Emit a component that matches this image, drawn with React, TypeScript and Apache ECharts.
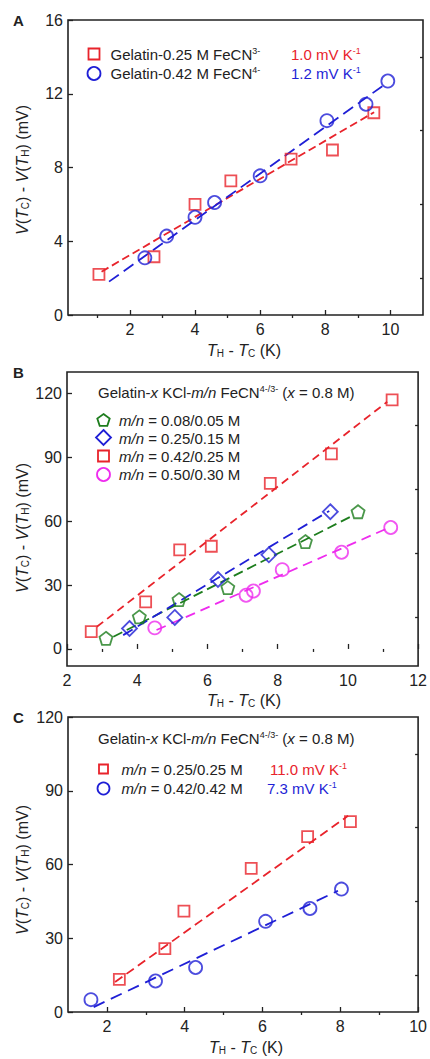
import React, { useEffect, useRef } from 'react';
import * as echarts from 'echarts';

const FONT = '"Liberation Sans", Arial, sans-serif';
const RED = '#e8232b';
const BLUE = '#1f1fd6';
const GREEN = '#1d7d1d';
const MAGENTA = '#ee2cee';
const INK = '#222222';

// ---------- Panel A data ----------
const aRedX = [1.05, 2.74, 4.0, 5.1, 6.95, 8.22, 9.49];
const aRedY = [2.2, 3.16, 6.0, 7.28, 8.45, 8.95, 10.97];
const aBlueX = [2.46, 3.13, 4.0, 4.6, 6.0, 8.05, 9.25, 9.92];
const aBlueY = [3.1, 4.28, 5.3, 6.1, 7.55, 10.54, 11.43, 12.69];
const aRedFit = [[1.13, 2.35], [9.5, 11.0]];
const aBlueFit = [[1.36, 1.81], [9.9, 12.6]];
const aXTicks = [2, 4, 6, 8, 10];
const aXMinor = [1, 3, 5, 7, 9];
const aYTicks = [0, 4, 8, 12, 16];
const aYMinor = [2, 6, 10, 14];

// ---------- Panel B data ----------
const bGreenX = [3.11, 4.06, 5.19, 6.58, 8.79, 10.29];
const bGreenY = [5.0, 15.1, 23.2, 28.8, 50.4, 64.4];
const bBlueX = [3.78, 5.07, 6.3, 7.75, 9.5];
const bBlueY = [9.6, 14.8, 32.6, 44.2, 64.4];
const bRedX = [2.69, 4.24, 5.21, 6.11, 7.79, 9.53, 11.26];
const bRedY = [8.1, 22.1, 46.5, 48.2, 77.7, 91.6, 116.9];
const bMagX = [4.5, 7.1, 7.31, 8.13, 9.82, 11.22];
const bMagY = [9.9, 25.2, 27.2, 37.2, 45.4, 57.0];
const bGreenFit = [[3.32, 5.7], [10.13, 62.5]];
const bBlueFit = [[3.6, 6.5], [9.47, 64.8]];
const bRedFit = [[2.85, 10.4], [11.12, 116]];
const bMagFit = [[4.55, 8.9], [11.08, 56.3]];
const bXTicks = [2, 4, 6, 8, 10, 12];
const bXMinor = [3, 5, 7, 9, 11];
const bYTicks = [0, 30, 60, 90, 120];
const bYMinor = [15, 45, 75, 105];

// ---------- Panel C data ----------
const cRedX = [2.32, 3.49, 3.98, 5.71, 7.16, 8.26];
const cRedY = [13.3, 25.8, 41.0, 58.4, 71.3, 77.4];
const cBlueX = [1.59, 3.25, 4.28, 6.08, 7.22, 8.03];
const cBlueY = [5.0, 12.6, 18.1, 36.9, 42.1, 50.0];
const cRedFit = [[2.21, 12.2], [8.2, 79.8]];
const cBlueFit = [[1.66, 2.0], [7.94, 49.3]];
const cXTicks = [2, 4, 6, 8, 10];
const cXMinor = [3, 5, 7, 9];
const cYTicks = [0, 30, 60, 90, 120];
const cYMinor = [15, 45, 75, 105];

const PENTAGON = 'path://M0,-10L9.511,-3.09L5.878,8.09L-5.878,8.09L-9.511,-3.09Z';

const zip = (xs: number[], ys: number[]) => xs.map((x, i) => [x, ys[i]]);

function richWith(color: string, size: number) {
  return {
    i: { fontStyle: 'italic', fontSize: size, fontFamily: FONT, fill: color },
    sup: { fontSize: Math.round(size * 0.62), fontFamily: FONT, fill: color, padding: [0, 0, 7, 0] },
    sub: { fontSize: Math.round(size * 0.62), fontFamily: FONT, fill: color, padding: [7, 0, 0, 0] },
  };
}

export default function App() {
  const ref = useRef<HTMLDivElement>(null);
  useEffect(() => {
    document.body.style.margin = '0';
    const chart = echarts.init(ref.current!, undefined, { renderer: 'svg' });

    const grids = [
      { left: 68, top: 20, width: 355, height: 295 },
      { left: 67, top: 372, width: 352, height: 294 },
      { left: 68, top: 717, width: 354, height: 295 },
    ].map((g) => ({ ...g, show: true, borderColor: INK, borderWidth: 1.6, backgroundColor: 'transparent' }));

    const axisCfg = [
      { x: [0.1, 11], y: [0, 16], xt: aXTicks, xm: aXMinor, yt: aYTicks, ym: aYMinor },
      { x: [2, 12], y: [-8, 130], xt: bXTicks, xm: bXMinor, yt: bYTicks, ym: bYMinor },
      { x: [1, 10], y: [0, 120], xt: cXTicks, xm: cXMinor, yt: cYTicks, ym: cYMinor },
    ];

    const xAxis: any[] = [];
    const yAxis: any[] = [];
    axisCfg.forEach((c, gi) => {
      const label = { color: INK, fontSize: 16, fontFamily: FONT };
      xAxis.push({
        gridIndex: gi, type: 'value', min: c.x[0], max: c.x[1],
        axisLine: { show: false }, splitLine: { show: false },
        axisTick: { inside: true, length: 5, customValues: c.xt, lineStyle: { color: INK, width: 1.3 } },
        axisLabel: { ...label, margin: 6, customValues: c.xt, showMaxLabel: true, showMinLabel: true },
      });
      xAxis.push({
        gridIndex: gi, type: 'value', min: c.x[0], max: c.x[1],
        axisLine: { show: false }, splitLine: { show: false },
        axisTick: { inside: true, length: 3, customValues: c.xm, lineStyle: { color: INK, width: 1.3 } },
        axisLabel: { show: false },
      });
      yAxis.push({
        gridIndex: gi, type: 'value', min: c.y[0], max: c.y[1],
        axisLine: { show: false }, splitLine: { show: false },
        axisTick: { inside: true, length: 5, customValues: c.yt, lineStyle: { color: INK, width: 1.3 } },
        axisLabel: { ...label, margin: 5, customValues: c.yt, showMaxLabel: true, showMinLabel: true },
      });
      yAxis.push({
        gridIndex: gi, type: 'value', min: c.y[0], max: c.y[1],
        axisLine: { show: false }, splitLine: { show: false },
        axisTick: { inside: true, length: 3, customValues: c.ym, lineStyle: { color: INK, width: 1.3 } },
        axisLabel: { show: false },
      });
    });

    const scatter = (name: string, gi: number, xs: number[], ys: number[], symbol: string, size: number, color: string) => ({
      name, type: 'scatter', xAxisIndex: gi * 2, yAxisIndex: gi * 2,
      data: zip(xs, ys), symbol, symbolSize: size,
      itemStyle: { color: 'rgba(255,255,255,0)', borderColor: color, borderWidth: 1.8 },
      z: 4,
    });
    const fit = (name: string, gi: number, pts: number[][], color: string, dash: number[]) => ({
      name, type: 'line', xAxisIndex: gi * 2, yAxisIndex: gi * 2,
      data: pts, symbol: 'none', showSymbol: false,
      lineStyle: { color, width: 1.8, type: dash },
      z: 3,
    });

    const series = [
      fit('A red fit', 0, aRedFit, RED, [8, 4]),
      fit('A blue fit', 0, aBlueFit, BLUE, [12, 6]),
      scatter('Gelatin-0.25 M FeCN3-', 0, aRedX, aRedY, 'rect', 11, RED),
      scatter('Gelatin-0.42 M FeCN4-', 0, aBlueX, aBlueY, 'circle', 13, BLUE),
      fit('B red fit', 1, bRedFit, RED, [8, 5]),
      fit('B green fit', 1, bGreenFit, GREEN, [10, 5]),
      fit('B blue fit', 1, bBlueFit, BLUE, [11, 6]),
      fit('B magenta fit', 1, bMagFit, MAGENTA, [10, 6]),
      scatter('m/n = 0.08/0.05 M', 1, bGreenX, bGreenY, PENTAGON, 13, GREEN),
      scatter('m/n = 0.25/0.15 M', 1, bBlueX, bBlueY, 'diamond', 15, BLUE),
      scatter('m/n = 0.42/0.25 M', 1, bRedX, bRedY, 'rect', 11, RED),
      scatter('m/n = 0.50/0.30 M', 1, bMagX, bMagY, 'circle', 13, MAGENTA),
      fit('C red fit', 2, cRedFit, RED, [9, 5]),
      fit('C blue fit', 2, cBlueFit, BLUE, [12, 7]),
      scatter('m/n = 0.25/0.25 M', 2, cRedX, cRedY, 'rect', 11, RED),
      scatter('m/n = 0.42/0.42 M', 2, cBlueX, cBlueY, 'circle', 13, BLUE),
    ];

    const txt = (x: number, y: number, text: string, opts: any = {}) => ({
      type: 'text', x, y, z: 10,
      style: {
        text, fill: opts.fill || INK, fontSize: opts.fontSize || 15, fontFamily: FONT,
        fontWeight: opts.fontWeight || 'normal',
        align: opts.align || 'left', verticalAlign: 'middle',
        rich: opts.rich || richWith(opts.fill || INK, opts.fontSize || 15),
      },
      rotation: opts.rotation || 0,
    });

    const sq = (cx: number, cy: number, s: number, color: string) => ({
      type: 'rect', z: 10, shape: { x: cx - s / 2, y: cy - s / 2, width: s, height: s },
      style: { fill: 'none', stroke: color, lineWidth: 1.8 },
    });
    const circ = (cx: number, cy: number, r: number, color: string) => ({
      type: 'circle', z: 10, shape: { cx, cy, r }, style: { fill: 'none', stroke: color, lineWidth: 1.8 },
    });
    const poly = (cx: number, cy: number, pts: number[][], color: string) => ({
      type: 'polygon', z: 10, shape: { points: pts.map(([x, y]) => [cx + x, cy + y]) },
      style: { fill: 'none', stroke: color, lineWidth: 1.8 },
    });
    const pentPts = [[0, -6.5], [6.2, -2], [3.8, 5.3], [-3.8, 5.3], [-6.2, -2]];
    const diaPts = [[0, -7.5], [7.5, 0], [0, 7.5], [-7.5, 0]];

    const yTitle = '{i|V}({i|T}{sub|C}) - {i|V}({i|T}{sub|H}) (mV)';
    const xTitle = '{i|T}{sub|H} - {i|T}{sub|C} (K)';
    const titleRich = richWith(INK, 16);

    const graphic = [
      // panel letters
      txt(13, 20, 'A', { fontWeight: 'bold', fontSize: 15 }),
      txt(13, 372, 'B', { fontWeight: 'bold', fontSize: 15 }),
      txt(13, 717, 'C', { fontWeight: 'bold', fontSize: 15 }),
      // axis titles
      txt(22, 170, yTitle, { align: 'center', fontSize: 16, rotation: Math.PI / 2, rich: titleRich }),
      txt(22, 528, yTitle, { align: 'center', fontSize: 16, rotation: Math.PI / 2, rich: titleRich }),
      txt(22, 870, yTitle, { align: 'center', fontSize: 16, rotation: Math.PI / 2, rich: titleRich }),
      txt(244, 350, xTitle, { align: 'center', fontSize: 16, rich: titleRich }),
      txt(244, 700, xTitle, { align: 'center', fontSize: 16, rich: titleRich }),
      txt(246, 1047, xTitle, { align: 'center', fontSize: 16, rich: titleRich }),
      // legend A
      sq(94, 54, 11, RED),
      circ(94, 73.5, 6.5, BLUE),
      txt(110.5, 54, 'Gelatin-0.25 M FeCN{sup|3-}'),
      txt(110.5, 73.5, 'Gelatin-0.42 M FeCN{sup|4-}'),
      txt(291, 54, '1.0 mV K{sup|-1}', { fill: RED }),
      txt(291, 73.5, '1.2 mV K{sup|-1}', { fill: BLUE }),
      // legend B
      txt(98, 392, 'Gelatin-{i|x} KCl-{i|m/n} FeCN{sup|4-/3-} ({i|x} = 0.8 M)'),
      poly(103.5, 420.5, pentPts, GREEN),
      poly(103.5, 437.5, diaPts, BLUE),
      sq(103.5, 456, 11, RED),
      circ(103.5, 474.5, 6.5, MAGENTA),
      txt(119, 420, '{i|m/n} = 0.08/0.05 M'),
      txt(119, 438, '{i|m/n} = 0.25/0.15 M'),
      txt(119, 456, '{i|m/n} = 0.42/0.25 M'),
      txt(119, 474.5, '{i|m/n} = 0.50/0.30 M'),
      // legend C
      txt(98, 738, 'Gelatin-{i|x} KCl-{i|m/n} FeCN{sup|4-/3-} ({i|x} = 0.8 M)'),
      sq(103.5, 769, 9, RED),
      circ(103.5, 788.5, 6, BLUE),
      txt(121.5, 769, '{i|m/n} = 0.25/0.25 M'),
      txt(121.5, 788.5, '{i|m/n} = 0.42/0.42 M'),
      txt(270, 769, '11.0 mV K{sup|-1}', { fill: RED }),
      txt(267, 788.5, '7.3 mV K{sup|-1}', { fill: BLUE }),
    ];

    chart.setOption({
      animation: false,
      backgroundColor: '#ffffff',
      textStyle: { fontFamily: FONT },
      grid: grids,
      xAxis,
      yAxis,
      series,
      graphic,
    });
    return () => chart.dispose();
  }, []);
  return <div ref={ref} style={{ width: 430, height: 1059 }} />;
}
